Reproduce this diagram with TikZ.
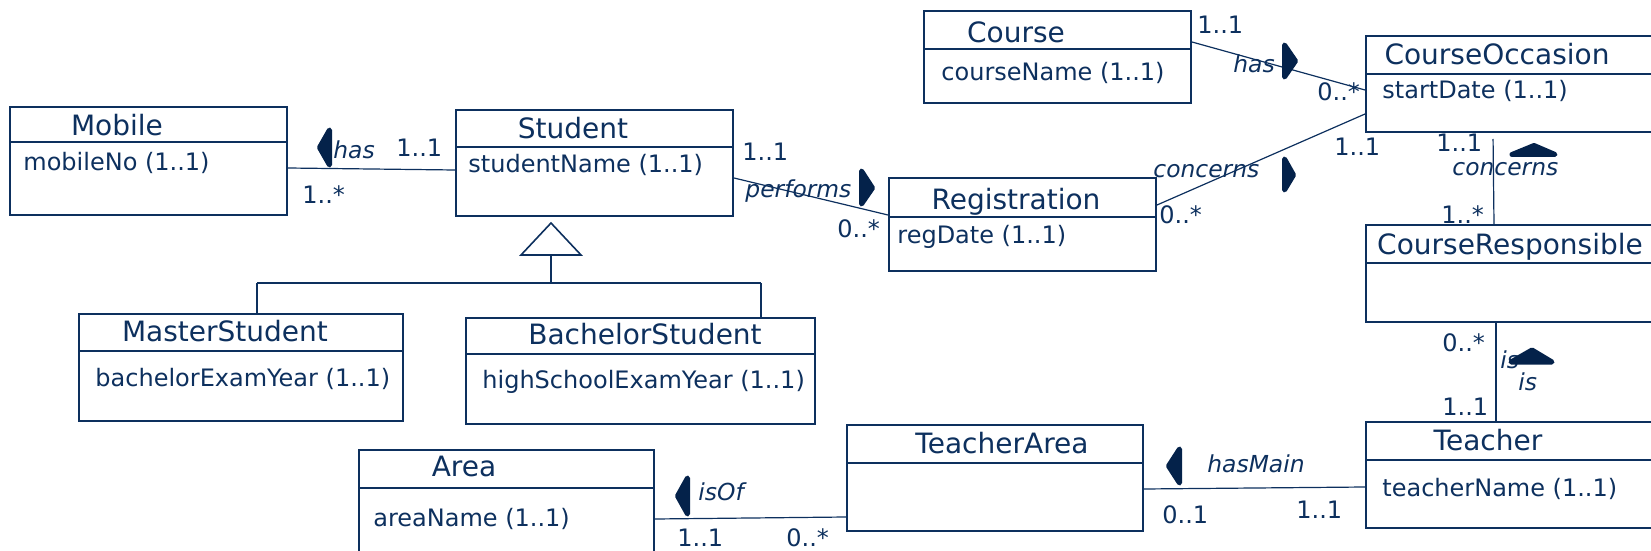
\documentclass[tikz,border=0pt]{standalone}
\usepackage{fontspec}
\setmainfont{DejaVu Sans}
\usetikzlibrary{fit}
\definecolor{navy}{RGB}{13,48,94}
\definecolor{navydark}{RGB}{4,34,74}

\begin{document}
\begin{tikzpicture}[x=0.5pt,y=-0.5pt,
  cls/.style={draw=navy, line width=1pt, inner sep=0pt},
  divline/.style={draw=navy, line width=1pt},
  assoc/.style={draw=navy, line width=0.6pt},
  genline/.style={draw=navy, line width=0.8pt},
  ctitle/.style={inner sep=0pt, text=navy, font=\fontsize{14}{16}\selectfont, text height=10.2pt, text depth=0pt},
  cattr/.style={inner sep=0pt, anchor=west, text=navy, font=\fontsize{12}{14}\selectfont, text height=8.8pt, text depth=0pt},
  mult/.style={inner sep=0pt, anchor=west, text=navy, font=\fontsize{12}{14}\selectfont, text height=8.7pt, text depth=0pt},
  role/.style={mult, font=\fontsize{11.7}{13}\selectfont\itshape},
  dirmark/.style={fill=navydark, draw=navydark, line width=2.5pt, line join=round},
]
\path[use as bounding box, clip] (0,0) rectangle (1651,551);

% ---------- classes ----------
\node[cls, fit={(10,107) (287,215)}] (mobile) {};
\draw[divline] (mobile.west |- 0,142) -- (mobile.east |- 0,142);
\node[ctitle] (mobile-t) at (117,125) {Mobile};
\node[cattr] (mobile-a) at (23,162) {mobileNo (1..1)};

\node[cls, fit={(456,110) (733,216)}] (student) {};
\draw[divline] (student.west |- 0,147) -- (student.east |- 0,147);
\node[ctitle] (student-t) at (573,128) {Student};
\node[cattr] (student-a) at (468,164) {studentName (1..1)};

\node[cls, fit={(79,314) (403,421)}] (master) {};
\draw[divline] (master.west |- 0,351) -- (master.east |- 0,351);
\node[ctitle] (master-t) at (225,331) {MasterStudent};
\node[cattr] (master-a) at (95,378) {bachelorExamYear (1..1)};

\node[cls, fit={(466,318) (815,424)}] (bachelor) {};
\draw[divline] (bachelor.west |- 0,354) -- (bachelor.east |- 0,354);
\node[ctitle] (bachelor-t) at (645,334) {BachelorStudent};
\node[cattr] (bachelor-a) at (482,380) {highSchoolExamYear (1..1)};

\node[cls, fit={(889,178) (1156,271)}] (registration) {};
\draw[divline] (registration.west |- 0,217) -- (registration.east |- 0,217);
\node[ctitle] (registration-t) at (1016,199) {Registration};
\node[cattr] (registration-a) at (897,235) {regDate (1..1)};

\node[cls, fit={(924,11) (1191,103)}] (course) {};
\draw[divline] (course.west |- 0,49) -- (course.east |- 0,49);
\node[ctitle] (course-t) at (1016,32) {Course};
\node[cattr] (course-a) at (941,72) {courseName (1..1)};

\node[cls, fit={(1366,36) (1665,132)}] (coocc) {};
\draw[divline] (coocc.west |- 0,74) -- (coocc.east |- 0,74);
\node[ctitle] (coocc-t) at (1497,54) {CourseOccasion};
\node[cattr] (coocc-a) at (1382,90) {startDate (1..1)};

\node[cls, fit={(1366,225) (1665,322)}] (coresp) {};
\draw[divline] (coresp.west |- 0,263) -- (coresp.east |- 0,263);
\node[ctitle] (coresp-t) at (1510,244) {CourseResponsible};

\node[cls, fit={(1366,422) (1665,528)}] (teacher) {};
\draw[divline] (teacher.west |- 0,460) -- (teacher.east |- 0,460);
\node[ctitle] (teacher-t) at (1488,440) {Teacher};
\node[cattr] (teacher-a) at (1382,488) {teacherName (1..1)};

\node[cls, fit={(847,425) (1143,531)}] (tarea) {};
\draw[divline] (tarea.west |- 0,463) -- (tarea.east |- 0,463);
\node[ctitle] (tarea-t) at (1002,443) {TeacherArea};

\node[cls, fit={(359,450) (654,565)}] (area) {};
\draw[divline] (area.west |- 0,488) -- (area.east |- 0,488);
\node[ctitle] (area-t) at (464,466) {Area};
\node[cattr] (area-a) at (373,518) {areaName (1..1)};

% ---------- generalization ----------
\coordinate (genapex) at (551,223);
\coordinate (genbase) at (551,255);
\coordinate (genbar) at (551,283);
\coordinate (barL) at (257,283);
\coordinate (barR) at (761,283);
\draw[genline, line join=miter] (genapex) -- (581,255) -- (521,255) -- cycle;
\draw[genline] (genbase) -- (genbar);
\draw[genline] (barL) -- (barR);
\draw[genline] (barL) -- (master.north -| barL);
\draw[genline] (barR) -- (bachelor.north -| barR);

% ---------- associations ----------
\draw[assoc] (mobile.east |- 0,168) -- (student.west |- 0,170);
\draw[assoc] (student.east |- 0,178) -- (registration.west |- 0,215);
\draw[assoc] (course.east |- 0,42) -- (coocc.west |- 0,90);
\draw[assoc] (registration.east |- 0,205) -- (coocc.west |- 0,114);
\draw[assoc, shorten <=3pt] (coocc.south -| 1493,0) -- (coresp.north -| 1494,0);
\draw[assoc] (coresp.south -| 1496,0) -- (teacher.north -| 1496,0);
\draw[assoc] (tarea.east |- 0,489) -- (teacher.west |- 0,487);
\draw[assoc] (area.east |- 0,519) -- (tarea.west |- 0,517);

% ---------- multiplicities and role names ----------
\node[role] (r-mob) at (333,150) {has};
\node[mult] (m-mob1) at (396,148) {1..1};
\node[mult] (m-mob2) at (302,194.5) {1..*};

\node[mult] (m-per1) at (742,152) {1..1};
\node[role] (r-per) at (745,188.5) {performs};
\node[mult] (m-per2) at (837,229) {0..*};

\node[mult] (m-has1) at (1197,25) {1..1};
\node[role] (r-has) at (1233,63.6) {has};
\node[mult] (m-has2) at (1317,92) {0..*};

\node[mult] (m-con1) at (1159,215) {0..*};
\node[role] (r-con) at (1153,168.6) {concerns};
\node[mult] (m-con2) at (1334,147) {1..1};

\node[mult] (m-cr1) at (1436,143) {1..1};
\node[role] (r-cr) at (1452,166.6) {concerns};
\node[mult] (m-cr2) at (1441,215) {1..*};

\node[mult] (m-is1) at (1442,343) {0..*};
\node[role] (r-is1) at (1500,359.6) {is};
\node[role] (r-is2) at (1518,381.6) {is};
\node[mult] (m-is2) at (1442,407) {1..1};

\node[role] (r-hm) at (1207,463.6) {hasMain};
\node[mult] (m-hm1) at (1162,515) {0..1};
\node[mult] (m-hm2) at (1296,510) {1..1};

\node[role] (r-iso) at (698,491.6) {isOf};
\node[mult] (m-iso1) at (677,538) {1..1};
\node[mult] (m-iso2) at (786,538) {0..*};

% ---------- reading-direction marks ----------
\filldraw[dirmark] (329.5,130) -- (329.5,165) -- (319.5,147.5) -- cycle;
\filldraw[dirmark] (861.5,171) -- (861.5,204) -- (872.5,188) -- cycle;
\filldraw[dirmark] (1284.5,45) -- (1284.5,77) -- (1295.5,61) -- cycle;
\filldraw[dirmark] (1284.5,159) -- (1284.5,190) -- (1293.5,175) -- cycle;
\filldraw[dirmark] (1512,154.5) -- (1555,154.5) -- (1534,145.5) -- cycle;
\filldraw[dirmark] (1511,362) -- (1552,362) -- (1532,350) -- cycle;
\filldraw[dirmark] (1179.5,449) -- (1179.5,483) -- (1168.5,466) -- cycle;
\filldraw[dirmark] (687.5,478) -- (687.5,514) -- (677.5,496) -- cycle;
\end{tikzpicture}
\end{document}
